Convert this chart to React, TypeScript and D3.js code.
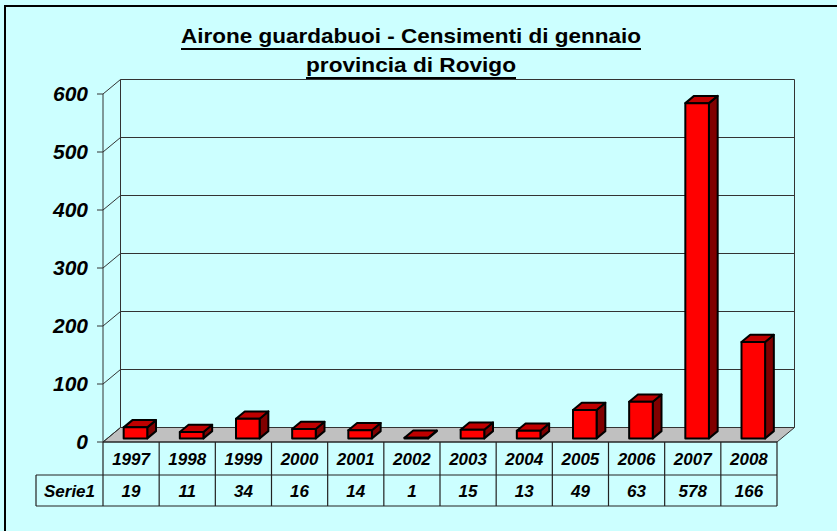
import React, { useEffect, useRef } from "react";
import * as d3 from "d3";

const years = ["1997", "1998", "1999", "2000", "2001", "2002", "2003", "2004", "2005", "2006", "2007", "2008"];
const values = [19, 11, 34, 16, 14, 1, 15, 13, 49, 63, 578, 166];
const seriesName = "Serie1";
const titleLines = ["Airone guardabuoi - Censimenti di gennaio", "provincia di Rovigo"];
const yTicks = [0, 100, 200, 300, 400, 500, 600];

const FONT = "Arial, 'Liberation Sans', sans-serif";

const App = () => {
  const svgRef = useRef<SVGSVGElement | null>(null);

  useEffect(() => {
    const width = 837;
    const height = 531;
    const svg = d3.select(svgRef.current);
    svg.selectAll("*").remove();

    // background + frame
    svg.append("rect").attr("width", width).attr("height", height).attr("fill", "#CCFFFF");
    svg
      .append("rect")
      .attr("x", 5)
      .attr("y", 6)
      .attr("width", width + 20)
      .attr("height", height + 20)
      .attr("fill", "none")
      .attr("stroke", "#000")
      .attr("stroke-width", 2);

    const x = d3.scaleBand().domain(years).range([103, 777]).paddingInner(0).paddingOuter(0);
    const y = d3.scaleLinear().domain([0, 600]).range([442, 94]);
    const dx = 17.5; // depth offset of the walls
    const dy = -14.5;

    const x0 = x.range()[0];
    const x1 = x.range()[1];

    // floor
    svg
      .append("path")
      .attr(
        "d",
        `M${x0},${y(0)}L${x0 + dx},${y(0) + dy}L${x1 + dx},${y(0) + dy}L${x1},${y(0)}Z`
      )
      .attr("fill", "#C0C0C0")
      .attr("stroke", "#333")
      .attr("stroke-width", 1);

    // back wall grid + left wall diagonals
    const grid = svg.append("g").attr("stroke", "#333").attr("stroke-width", 1).attr("fill", "none");
    yTicks.forEach((t) => {
      if (t > 0) {
        grid
          .append("line")
          .attr("x1", x0 + dx)
          .attr("x2", x1 + dx)
          .attr("y1", y(t) + dy)
          .attr("y2", y(t) + dy);
      }
      grid
        .append("line")
        .attr("x1", x0)
        .attr("x2", x0 + dx)
        .attr("y1", y(t))
        .attr("y2", y(t) + dy);
      // tick mark
      grid
        .append("line")
        .attr("x1", x0 - 6)
        .attr("x2", x0)
        .attr("y1", y(t))
        .attr("y2", y(t));
    });
    // wall edges
    grid
      .append("line")
      .attr("x1", x0 + dx)
      .attr("x2", x0 + dx)
      .attr("y1", y(600) + dy)
      .attr("y2", y(0) + dy);
    grid
      .append("line")
      .attr("x1", x1 + dx)
      .attr("x2", x1 + dx)
      .attr("y1", y(600) + dy)
      .attr("y2", y(0) + dy);
    grid
      .append("line")
      .attr("x1", x0)
      .attr("x2", x0)
      .attr("y1", y(600))
      .attr("y2", y(0));

    // y labels
    svg
      .append("g")
      .selectAll("text")
      .data(yTicks)
      .enter()
      .append("text")
      .attr("x", 88)
      .attr("y", (d) => y(d) + 7)
      .attr("text-anchor", "end")
      .attr("font-family", FONT)
      .attr("font-weight", "bold")
      .attr("font-style", "italic")
      .attr("font-size", 21)
      .text((d) => d);

    // bars (3d boxes)
    const bw = x.bandwidth() * 0.42;
    const f0 = 0.25; // depth position of the front face
    const f1 = 0.75;
    const bdx = dx * (f1 - f0);
    const bdy = dy * (f1 - f0);
    const bars = svg.append("g").attr("stroke", "#000").attr("stroke-width", 2).attr("stroke-linejoin", "round");
    years.forEach((yr, i) => {
      const xc = (x(yr) as number) + x.bandwidth() / 2 + dx * f0;
      const xl = xc - bw / 2;
      const xr = xc + bw / 2;
      const base = y(0) + dy * f0;
      const top = y(values[i]) + dy * f0;
      bars
        .append("path")
        .attr("d", `M${xr},${top}L${xr + bdx},${top + bdy}L${xr + bdx},${base + bdy}L${xr},${base}Z`)
        .attr("fill", "#800000");
      bars
        .append("path")
        .attr("d", `M${xl},${top}L${xl + bdx},${top + bdy}L${xr + bdx},${top + bdy}L${xr},${top}Z`)
        .attr("fill", "#C00000");
      bars
        .append("rect")
        .attr("x", xl)
        .attr("y", top)
        .attr("width", bw)
        .attr("height", base - top)
        .attr("fill", "#FF0000");
    });

    // data table
    const rowTop = y(0);
    const rowMid = 475;
    const rowBot = 506;
    const labelLeft = 36;
    const table = svg.append("g").attr("stroke", "#222").attr("stroke-width", 1.2);
    table.append("line").attr("x1", x0).attr("x2", x1).attr("y1", rowTop).attr("y2", rowTop);
    table.append("line").attr("x1", labelLeft).attr("x2", x1).attr("y1", rowMid).attr("y2", rowMid);
    table.append("line").attr("x1", labelLeft).attr("x2", x1).attr("y1", rowBot).attr("y2", rowBot);
    table.append("line").attr("x1", labelLeft).attr("x2", labelLeft).attr("y1", rowMid).attr("y2", rowBot);
    years.forEach((yr) => {
      const xs = x(yr) as number;
      table.append("line").attr("x1", xs).attr("x2", xs).attr("y1", rowTop).attr("y2", rowBot);
    });
    table.append("line").attr("x1", x1).attr("x2", x1).attr("y1", rowTop).attr("y2", rowBot);

    const cellText = (g: any) =>
      g
        .attr("text-anchor", "middle")
        .attr("font-family", FONT)
        .attr("font-weight", "bold")
        .attr("font-style", "italic")
        .attr("font-size", 17);

    svg
      .append("g")
      .call(cellText)
      .selectAll("text")
      .data(years)
      .enter()
      .append("text")
      .attr("x", (d) => (x(d) as number) + x.bandwidth() / 2)
      .attr("y", (rowTop + rowMid) / 2 + 6)
      .text((d) => d);

    svg
      .append("g")
      .call(cellText)
      .selectAll("text")
      .data(values)
      .enter()
      .append("text")
      .attr("x", (d, i) => (x(years[i]) as number) + x.bandwidth() / 2)
      .attr("y", (rowMid + rowBot) / 2 + 6)
      .text((d) => d);

    svg
      .append("text")
      .call(cellText)
      .attr("x", (labelLeft + x0) / 2)
      .attr("y", (rowMid + rowBot) / 2 + 6)
      .text(seriesName);

    // title with underline (widths)
    const titleY = [43, 72];
    const titleW = [460, 210];
    titleLines.forEach((line, i) => {
      svg
        .append("text")
        .attr("x", 411)
        .attr("y", titleY[i])
        .attr("text-anchor", "middle")
        .attr("font-family", FONT)
        .attr("font-weight", "bold")
        .attr("font-size", 21)
        .attr("textLength", titleW[i])
        .attr("lengthAdjust", "spacingAndGlyphs")
        .text(line);
      svg
        .append("line")
        .attr("x1", 411 - titleW[i] / 2)
        .attr("x2", 411 + titleW[i] / 2)
        .attr("y1", titleY[i] + 6)
        .attr("y2", titleY[i] + 6)
        .attr("stroke", "#000")
        .attr("stroke-width", 2);
    });
  }, []);

  return (
    <svg
      ref={svgRef}
      width={837}
      height={531}
      style={{ position: "absolute", left: 0, top: 0, display: "block" }}
    />
  );
};

export default App;
